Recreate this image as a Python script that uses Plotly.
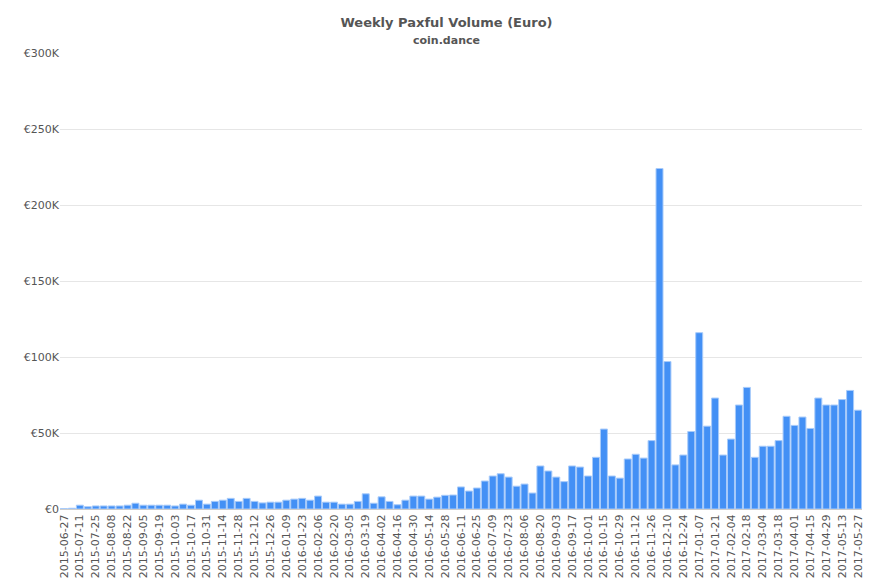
import pandas as pd
import plotly.graph_objects as go

weeks = pd.date_range("2015-06-27", "2017-05-27", freq="7D").strftime("%Y-%m-%d").tolist()

volume_k = [
    0.3, 0.5, 2.5, 1.5, 2, 2, 2, 2, 2.5, 3.8, 2.5, 2.5, 2.5, 2.5, 2, 3.2, 2.5, 5.8, 3.2, 5,
    5.8, 7, 5, 7, 5, 4, 4.5,
    4.5, 5.8, 6.5, 7, 5.8, 8.5, 4.5, 4.5, 3.2, 3.2, 5, 10, 3.8, 8, 5, 2.8, 5.8, 8.5, 8.5,
    6.5, 7.8, 9, 9.2,
    14.5, 11.8, 13.8, 18.4, 21.7, 23.2, 21, 15, 16.4, 10.5, 28.3, 25, 21, 18, 28.3, 27.6,
    21.7, 34, 52.6, 21.7, 20.3, 32.9, 36, 33.5, 45, 224, 97, 29, 35.5, 51, 116, 54.5, 73,
    35.5, 46, 68.4, 80, 34, 41.3, 41.3, 45, 61, 55, 60.5, 53, 73, 68.4, 68.4, 72, 78, 65,
]
assert len(volume_k) == len(weeks)
volume = [v * 1000 for v in volume_k]

fig = go.Figure(go.Bar(
    x=weeks, y=volume,
    marker=dict(color="#4390f5", line=dict(color="#a8cbfa", width=1)),
))

fig.update_layout(
    title=dict(
        text="<b>Weekly Paxful Volume (Euro)</b><br><span style='font-size:11px'><b>coin.dance</b></span>",
        x=0.5, xanchor="center", y=0.967, yanchor="top", font=dict(size=13, color="#555555"),
    ),
    width=877, height=585,
    margin=dict(l=52, r=23, t=45, b=84, autoexpand=False),
    plot_bgcolor="white", paper_bgcolor="white",
    font=dict(family="DejaVu Sans", size=11, color="#555555"),
    bargap=0.12,
    showlegend=False,
)
fig.update_xaxes(
    type="category", tickangle=-90, tickmode="array",
    tickvals=weeks[::2], ticktext=weeks[::2],
    showgrid=False, ticks="", linecolor="#cccccc",
)
fig.update_yaxes(
    range=[0, 300000], tickvals=[0, 50000, 100000, 150000, 200000, 250000, 300000],
    ticktext=["€0", "€50K", "€100K", "€150K", "€200K", "€250K", "€300K"],
    gridcolor="#e6e6e6", zeroline=False,
)

fig.write_html("out.html")
